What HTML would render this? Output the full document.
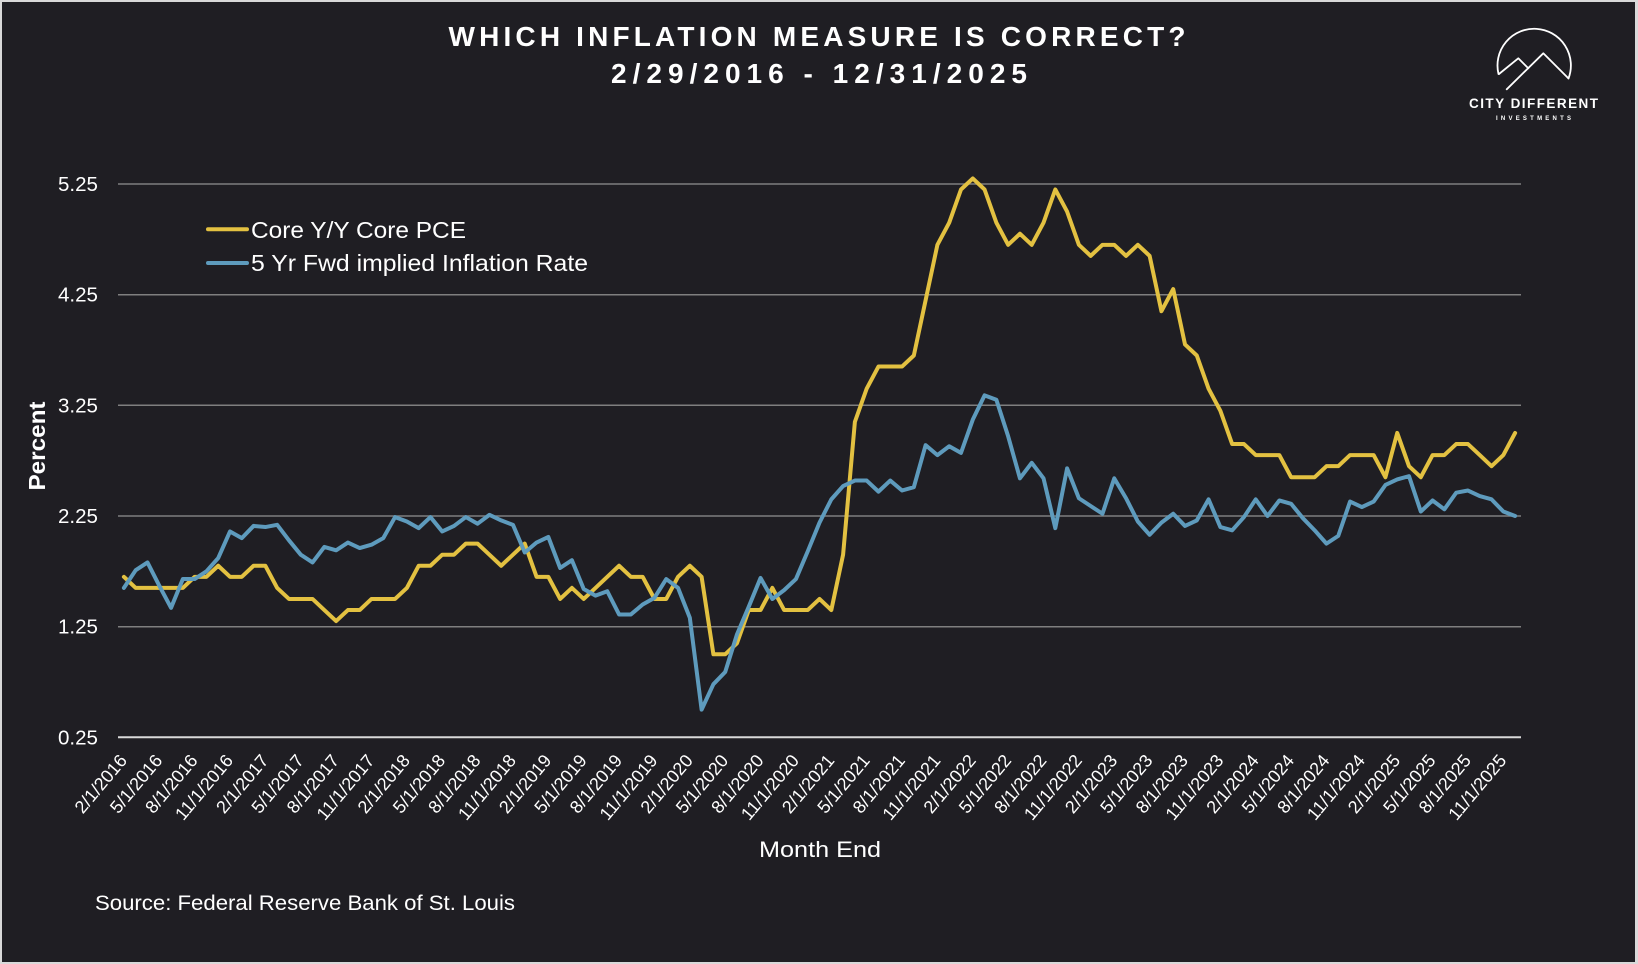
<!DOCTYPE html>
<html>
<head>
<meta charset="utf-8">
<style>
  html, body { margin:0; padding:0; background:#1f1e23; }
  body { width:1638px; height:964px; overflow:hidden; }
  svg { display:block; }
  text { font-family: "Liberation Sans", sans-serif; fill:#ffffff; }
</style>
</head>
<body>
<svg width="1638" height="964" viewBox="0 0 1638 964" xmlns="http://www.w3.org/2000/svg">
  <!-- background + border -->
  <rect x="0" y="0" width="1638" height="964" fill="#d9d9d9"/>
  <rect x="2" y="2" width="1633" height="960" fill="#1f1e23"/>

  <!-- title -->
  <text x="817" y="46" text-anchor="middle" font-size="28" font-weight="bold" textLength="737" lengthAdjust="spacing">WHICH INFLATION MEASURE IS CORRECT?</text>
  <text x="819" y="83" text-anchor="middle" font-size="28" font-weight="bold" textLength="416" lengthAdjust="spacing">2/29/2016 - 12/31/2025</text>

  <!-- logo -->
  <g fill="none" stroke="#ffffff" stroke-width="1.8" stroke-linecap="round" stroke-linejoin="round">
    <path d="M1498.5 74 A36.7 36.7 0 1 1 1568.5 78.5"/>
    <polyline points="1499,74 1518.3,58.3 1528.3,68.3"/>
    <polyline points="1506.7,89.3 1543.3,53.3 1568.3,78.3"/>
  </g>
  <text x="1533.5" y="108" text-anchor="middle" font-size="13.5" font-weight="bold" textLength="129" lengthAdjust="spacing">CITY DIFFERENT</text>
  <text x="1533.5" y="120" text-anchor="middle" font-size="6" font-weight="bold" textLength="75" lengthAdjust="spacing">INVESTMENTS</text>

  <!-- gridlines -->
  <g stroke="#7f7f7f" stroke-width="1.5">
    <line x1="118" y1="184" x2="1521" y2="184"/>
    <line x1="118" y1="294.7" x2="1521" y2="294.7"/>
    <line x1="118" y1="405.3" x2="1521" y2="405.3"/>
    <line x1="118" y1="516" x2="1521" y2="516"/>
    <line x1="118" y1="626.7" x2="1521" y2="626.7"/>
  </g>
  <line x1="118" y1="737.3" x2="1521" y2="737.3" stroke="#d9d9d9" stroke-width="2"/>

  <!-- y labels -->
  <g font-size="20" text-anchor="end">
    <text x="98" y="191" textLength="40" lengthAdjust="spacingAndGlyphs">5.25</text>
    <text x="98" y="301.7" textLength="40" lengthAdjust="spacingAndGlyphs">4.25</text>
    <text x="98" y="412.3" textLength="40" lengthAdjust="spacingAndGlyphs">3.25</text>
    <text x="98" y="523" textLength="40" lengthAdjust="spacingAndGlyphs">2.25</text>
    <text x="98" y="633.7" textLength="40" lengthAdjust="spacingAndGlyphs">1.25</text>
    <text x="98" y="744.3" textLength="40" lengthAdjust="spacingAndGlyphs">0.25</text>
  </g>

  <!-- y axis title -->
  <text transform="translate(45,446) rotate(-90)" text-anchor="middle" font-size="23" font-weight="bold" textLength="89" lengthAdjust="spacingAndGlyphs">Percent</text>

  <!-- legend -->
  <line x1="208" y1="229.3" x2="247" y2="229.3" stroke="#e3c141" stroke-width="4" stroke-linecap="round"/>
  <line x1="208" y1="263" x2="247" y2="263" stroke="#5e9bbd" stroke-width="4" stroke-linecap="round"/>
  <text x="251" y="238" font-size="23" textLength="215" lengthAdjust="spacingAndGlyphs">Core Y/Y Core PCE</text>
  <text x="251" y="271" font-size="23" textLength="337" lengthAdjust="spacingAndGlyphs">5 Yr Fwd implied Inflation Rate</text>

  <!-- series -->
  <g transform="translate(123.9,764.97) scale(11.79,-110.67)" fill="none" stroke-linejoin="round" stroke-linecap="round">
    <polyline vector-effect="non-scaling-stroke" stroke="#e3c141" stroke-width="4" points="0,1.70 1,1.60 2,1.60 3,1.60 4,1.60 5,1.60 6,1.70 7,1.70 8,1.80 9,1.70 10,1.70 11,1.80 12,1.80 13,1.60 14,1.50 15,1.50 16,1.50 17,1.40 18,1.30 19,1.40 20,1.40 21,1.50 22,1.50 23,1.50 24,1.60 25,1.80 26,1.80 27,1.90 28,1.90 29,2.00 30,2.00 31,1.90 32,1.80 33,1.90 34,2.00 35,1.70 36,1.70 37,1.50 38,1.60 39,1.50 40,1.60 41,1.70 42,1.80 43,1.70 44,1.70 45,1.50 46,1.50 47,1.70 48,1.80 49,1.70 50,1.00 51,1.00 52,1.10 53,1.40 54,1.40 55,1.60 56,1.40 57,1.40 58,1.40 59,1.50 60,1.40 61,1.90 62,3.10 63,3.40 64,3.60 65,3.60 66,3.60 67,3.70 68,4.20 69,4.70 70,4.90 71,5.20 72,5.30 73,5.20 74,4.90 75,4.70 76,4.80 77,4.70 78,4.90 79,5.20 80,5.00 81,4.70 82,4.60 83,4.70 84,4.70 85,4.60 86,4.70 87,4.60 88,4.10 89,4.30 90,3.80 91,3.70 92,3.40 93,3.20 94,2.90 95,2.90 96,2.80 97,2.80 98,2.80 99,2.60 100,2.60 101,2.60 102,2.70 103,2.70 104,2.80 105,2.80 106,2.80 107,2.60 108,3.00 109,2.70 110,2.60 111,2.80 112,2.80 113,2.90 114,2.90 115,2.80 116,2.70 117,2.80 118,3.00"/>
    <polyline vector-effect="non-scaling-stroke" stroke="#5e9bbd" stroke-width="4" points="0,1.60 1,1.76 2,1.83 3,1.62 4,1.42 5,1.68 6,1.68 7,1.75 8,1.87 9,2.11 10,2.05 11,2.16 12,2.15 13,2.17 14,2.03 15,1.90 16,1.83 17,1.97 18,1.94 19,2.01 20,1.96 21,1.99 22,2.05 23,2.24 24,2.20 25,2.14 26,2.24 27,2.11 28,2.16 29,2.24 30,2.18 31,2.26 32,2.21 33,2.17 34,1.92 35,2.01 36,2.06 37,1.78 38,1.85 39,1.59 40,1.53 41,1.57 42,1.36 43,1.36 44,1.45 45,1.51 46,1.68 47,1.60 48,1.33 49,0.50 50,0.73 51,0.84 52,1.18 53,1.43 54,1.69 55,1.50 56,1.58 57,1.68 58,1.93 59,2.19 60,2.40 61,2.52 62,2.57 63,2.57 64,2.47 65,2.57 66,2.48 67,2.51 68,2.89 69,2.80 70,2.88 71,2.82 72,3.12 73,3.34 74,3.30 75,2.97 76,2.59 77,2.73 78,2.59 79,2.14 80,2.68 81,2.41 82,2.34 83,2.27 84,2.59 85,2.41 86,2.20 87,2.08 88,2.19 89,2.27 90,2.16 91,2.21 92,2.40 93,2.15 94,2.12 95,2.24 96,2.40 97,2.25 98,2.39 99,2.36 100,2.23 101,2.12 102,2.00 103,2.07 104,2.38 105,2.33 106,2.38 107,2.53 108,2.58 109,2.61 110,2.29 111,2.39 112,2.31 113,2.46 114,2.48 115,2.43 116,2.40 117,2.29 118,2.25"/>
  </g>

  <!-- x labels -->
  <g font-size="18" text-anchor="end">
    <text transform="translate(127.9,761) rotate(-50)">2/1/2016</text>
    <text transform="translate(163.3,761) rotate(-50)">5/1/2016</text>
    <text transform="translate(198.6,761) rotate(-50)">8/1/2016</text>
    <text transform="translate(234.0,761) rotate(-50)">11/1/2016</text>
    <text transform="translate(269.4,761) rotate(-50)">2/1/2017</text>
    <text transform="translate(304.8,761) rotate(-50)">5/1/2017</text>
    <text transform="translate(340.1,761) rotate(-50)">8/1/2017</text>
    <text transform="translate(375.5,761) rotate(-50)">11/1/2017</text>
    <text transform="translate(410.9,761) rotate(-50)">2/1/2018</text>
    <text transform="translate(446.2,761) rotate(-50)">5/1/2018</text>
    <text transform="translate(481.6,761) rotate(-50)">8/1/2018</text>
    <text transform="translate(517.0,761) rotate(-50)">11/1/2018</text>
    <text transform="translate(552.3,761) rotate(-50)">2/1/2019</text>
    <text transform="translate(587.7,761) rotate(-50)">5/1/2019</text>
    <text transform="translate(623.1,761) rotate(-50)">8/1/2019</text>
    <text transform="translate(658.5,761) rotate(-50)">11/1/2019</text>
    <text transform="translate(693.8,761) rotate(-50)">2/1/2020</text>
    <text transform="translate(729.2,761) rotate(-50)">5/1/2020</text>
    <text transform="translate(764.6,761) rotate(-50)">8/1/2020</text>
    <text transform="translate(799.9,761) rotate(-50)">11/1/2020</text>
    <text transform="translate(835.3,761) rotate(-50)">2/1/2021</text>
    <text transform="translate(870.7,761) rotate(-50)">5/1/2021</text>
    <text transform="translate(906.0,761) rotate(-50)">8/1/2021</text>
    <text transform="translate(941.4,761) rotate(-50)">11/1/2021</text>
    <text transform="translate(976.8,761) rotate(-50)">2/1/2022</text>
    <text transform="translate(1012.2,761) rotate(-50)">5/1/2022</text>
    <text transform="translate(1047.5,761) rotate(-50)">8/1/2022</text>
    <text transform="translate(1082.9,761) rotate(-50)">11/1/2022</text>
    <text transform="translate(1118.3,761) rotate(-50)">2/1/2023</text>
    <text transform="translate(1153.6,761) rotate(-50)">5/1/2023</text>
    <text transform="translate(1189.0,761) rotate(-50)">8/1/2023</text>
    <text transform="translate(1224.4,761) rotate(-50)">11/1/2023</text>
    <text transform="translate(1259.7,761) rotate(-50)">2/1/2024</text>
    <text transform="translate(1295.1,761) rotate(-50)">5/1/2024</text>
    <text transform="translate(1330.5,761) rotate(-50)">8/1/2024</text>
    <text transform="translate(1365.9,761) rotate(-50)">11/1/2024</text>
    <text transform="translate(1401.2,761) rotate(-50)">2/1/2025</text>
    <text transform="translate(1436.6,761) rotate(-50)">5/1/2025</text>
    <text transform="translate(1472.0,761) rotate(-50)">8/1/2025</text>
    <text transform="translate(1507.3,761) rotate(-50)">11/1/2025</text>
  </g>

  <!-- x axis title -->
  <text x="820" y="857" text-anchor="middle" font-size="22" textLength="122" lengthAdjust="spacingAndGlyphs">Month End</text>

  <!-- source -->
  <text x="95" y="910" font-size="21" textLength="420" lengthAdjust="spacingAndGlyphs">Source: Federal Reserve Bank of St. Louis</text>
</svg>
</body>
</html>
